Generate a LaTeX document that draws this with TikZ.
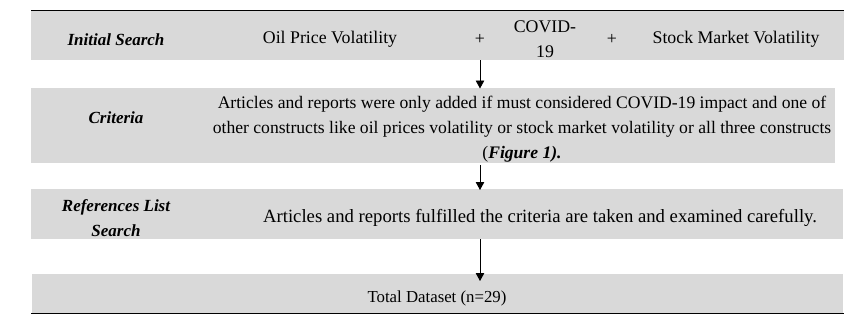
\documentclass[tikz,border=0pt]{standalone}
\usepackage{fontspec}
\setmainfont{Liberation Serif}
\usetikzlibrary{arrows.meta}
\definecolor{bandgray}{HTML}{D9D9D9}
\begin{document}
\begin{tikzpicture}[x=1pt,y=-1pt,
  band/.style={fill=bandgray, draw=none, inner sep=0pt, anchor=north west},
  txt/.style={inner sep=0pt, font=\fontsize{17.8}{25}\selectfont, align=center},
  lbl/.style={txt, font=\fontsize{17}{25}\selectfont\bfseries\itshape},
  flow/.style={line width=0.9pt, -{Triangle[length=8pt,width=8.5pt]}},
  rule/.style={line width=1pt}]
\useasboundingbox (0,0) rectangle (864,322);
% bands
\node[band, minimum width=813pt, minimum height=49pt] (b1) at (31,11) {};
\node[band, minimum width=804pt, minimum height=75pt] (b2) at (31,88) {};
\node[band, minimum width=812pt, minimum height=50pt] (b3) at (31,189) {};
\node[band, minimum width=811pt, minimum height=39pt] (b4) at (32,274) {};
% rules
\coordinate (tl) at (31,10.5);
\coordinate (tr) at (844,10.5);
\coordinate (bl) at (31,313.5);
\coordinate (br) at (844,313.5);
\draw[rule] (tl) -- (tr);
\draw[rule] (bl) -- (br);
% texts
\node[lbl] (l1) at (116,40) {Initial Search};
\node[txt] (t1a) at (330,39) {Oil Price Volatility};
\node[txt] (p1) at (480,39) {+};
\node[txt] (t1b) at (545,39.5) {COVID-\\19};
\node[txt] (p2) at (612,39) {+};
\node[txt] (t1c) at (736,39) {Stock Market Volatility};
\node[lbl] (l2) at (116,118) {Criteria};
\node[txt, font=\fontsize{17.6}{25}\selectfont] (t2) at (522,129) {Articles and reports were only added if must considered COVID-19 impact and one of\\
other constructs like oil prices volatility or stock market volatility or all three constructs\\
(\textbf{\textit{Figure 1).}}};
\node[lbl] (l3) at (116,218) {References List\\Search};
\node[txt, font=\fontsize{18.7}{25}\selectfont] (t3) at (540,218) {Articles and reports fulfilled the criteria are taken and examined carefully.};
\node[txt, font=\fontsize{16.8}{25}\selectfont] (t4) at (437,298) {Total Dataset (n=29)};
% arrows
\coordinate (c) at (480,0);
\draw[flow] (b1.south -| c) -- ([yshift=-0.5pt]b2.north -| c);
\draw[flow] ([yshift=-1.5pt]b2.south -| c) -- ([yshift=-1pt]b3.north -| c);
\draw[flow] (b3.south -| c) -- ([yshift=-7pt]b4.north -| c);
\end{tikzpicture}
\end{document}
